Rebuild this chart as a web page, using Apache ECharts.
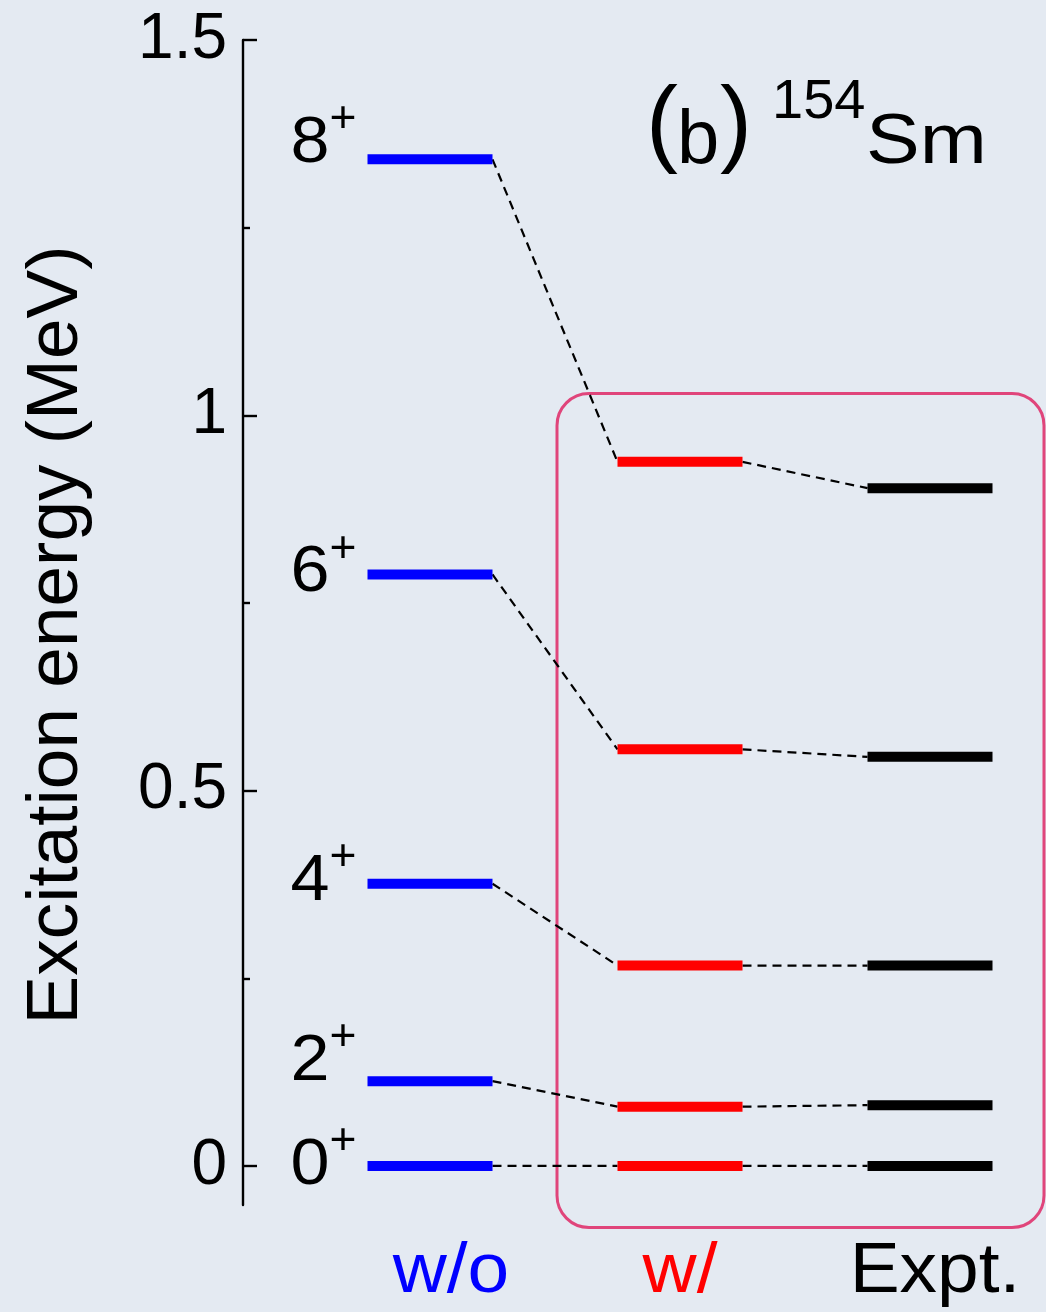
<!DOCTYPE html>
<html>
<head>
<meta charset="utf-8">
<title>154Sm excitation levels</title>
<style>
  html, body { margin: 0; padding: 0; background: #e4eaf2; }
  #chart { width: 1046px; height: 1312px; }
</style>
<script src="https://cdn.jsdelivr.net/npm/echarts@6/dist/echarts.min.js"></script>
</head>
<body>
<div id="chart"></div>
<script>
// Level energies (MeV) of the ground-state band, by spin 0+, 2+, 4+, 6+, 8+
const columns = ['w/o', 'w/', 'Expt.'];
const spins = ['0', '2', '4', '6', '8'];
const energyWithout = [0, 0.113, 0.376, 0.788, 1.341];
const energyWith = [0, 0.079, 0.267, 0.555, 0.938];
const energyExpt = [0, 0.081, 0.267, 0.545, 0.903];
const majorTicks = [0, 0.5, 1, 1.5];
const minorTicks = [0.25, 0.75, 1.25];

// ---- styling / layout ----
const FONT = "'Liberation Sans', Arial, Helvetica, sans-serif";
const columnColors = ['#0000ff', '#ff0000', '#000000'];
const HALF = 0.25;                    // half width of a level bar (column units)
const Y_MIN = -0.052, Y_MAX = 1.5;
const X_MIN = 0.252, X_MAX = 3.464;
const spinLabelLift = [0, -19, -2, -1, -15];  // px, keeps close labels apart
const columnLabelNudge = [21, 0, 5];          // px
const highlightBox = { x0: 1.508, x1: 3.456, y0: 1.029, y1: -0.082 };

const levelSets = [energyWithout, energyWith, energyExpt];

function levelSeries(ci) {
  return {
    type: 'custom',
    name: columns[ci],
    z: 4,
    data: levelSets[ci].map(e => [ci + 1, e]),
    renderItem(params, api) {
      const x = api.value(0), e = api.value(1);
      const a = api.coord([x - HALF, e]);
      const b = api.coord([x + HALF, e]);
      return {
        type: 'line',
        shape: { x1: a[0], y1: a[1], x2: b[0], y2: b[1] },
        style: { stroke: columnColors[ci], lineWidth: 10, lineCap: 'butt' }
      };
    }
  };
}

// dashed links between matching levels of neighbouring columns
const linkData = [];
spins.forEach((s, i) => {
  linkData.push([1 + HALF, energyWithout[i], 2 - HALF, energyWith[i]]);
  linkData.push([2 + HALF, energyWith[i], 3 - HALF, energyExpt[i]]);
});

const linkSeries = {
  type: 'custom',
  z: 3,
  data: linkData,
  renderItem(params, api) {
    const a = api.coord([api.value(0), api.value(1)]);
    const b = api.coord([api.value(2), api.value(3)]);
    return {
      type: 'line',
      shape: { x1: a[0], y1: a[1], x2: b[0], y2: b[1] },
      style: { stroke: '#000', lineWidth: 2.2, lineDash: [9, 6] }
    };
  }
};

// spin-parity labels left of the first column
const spinLabelSeries = {
  type: 'custom',
  z: 5,
  data: energyWithout.map((e, i) => [1, e, i]),
  renderItem(params, api) {
    const i = api.value(2);
    const p = api.coord([api.value(0) - HALF, api.value(1)]);
    const xr = p[0] - 38;
    const y = p[1] + spinLabelLift[i];
    return {
      type: 'group',
      children: [
        { type: 'text', x: xr, y: y, scaleX: 1.08,
          style: { text: spins[i], font: '65px ' + FONT, fill: '#000', align: 'right', verticalAlign: 'middle' } },
        { type: 'text', x: xr, y: y - 24, scaleX: 1.05,
          style: { text: '+', font: '44px ' + FONT, fill: '#000', align: 'left', verticalAlign: 'middle' } }
      ]
    };
  }
};

// column captions under the axis
const columnLabelSeries = {
  type: 'custom',
  z: 5,
  data: columns.map((c, i) => [i + 1, Y_MIN, i]),
  renderItem(params, api) {
    const i = api.value(2);
    const p = api.coord([api.value(0), api.value(1)]);
    return {
      type: 'text', x: p[0] + columnLabelNudge[i], y: p[1] + 68, scaleX: 1.07,
      style: { text: columns[i], font: '70px ' + FONT, fill: columnColors[i], align: 'center', verticalAlign: 'middle' }
    };
  }
};

// rounded frame around the w/ and Expt. columns
const frameSeries = {
  type: 'custom',
  z: 2,
  silent: true,
  data: [[highlightBox.x0, highlightBox.y0, highlightBox.x1, highlightBox.y1]],
  renderItem(params, api) {
    const a = api.coord([api.value(0), api.value(1)]);
    const b = api.coord([api.value(2), api.value(3)]);
    return {
      type: 'rect',
      shape: { x: a[0], y: a[1], width: b[0] - a[0], height: b[1] - a[1], r: 32 },
      style: { fill: 'none', stroke: '#e0457b', lineWidth: 3 }
    };
  }
};

const chart = echarts.init(document.getElementById('chart'), null, { renderer: 'canvas' });

chart.setOption({
  animation: false,
  backgroundColor: '#e4eaf2',
  grid: { left: 243, right: 0, top: 40, bottom: 107, containLabel: false, outerBoundsMode: 'none' },
  xAxis: { type: 'value', min: X_MIN, max: X_MAX, show: false },
  yAxis: [
    {
      type: 'value', min: Y_MIN, max: Y_MAX, position: 'left',
      splitLine: { show: false },
      axisLine: { show: true, onZero: false, lineStyle: { color: '#000', width: 2.4 } },
      axisTick: { show: true, inside: true, length: 14, customValues: majorTicks,
                  lineStyle: { color: '#000', width: 2.4 } },
      axisLabel: { show: true, customValues: majorTicks, formatter: v => String(v),
                   fontSize: 64, fontFamily: FONT, color: '#000', margin: 16 },
      name: 'Excitation energy (MeV)',
      nameLocation: 'middle', nameRotate: 90, nameGap: 150,
      nameTextStyle: { fontSize: 73, fontFamily: FONT, color: '#000', padding: [0, 25, 0, 0] }
    },
    {
      type: 'value', min: Y_MIN, max: Y_MAX, position: 'left',
      splitLine: { show: false }, axisLine: { show: false }, axisLabel: { show: false },
      axisTick: { show: true, inside: true, length: 7, customValues: minorTicks,
                  lineStyle: { color: '#000', width: 2.4 } }
    }
  ],
  graphic: [
    { type: 'text', x: 646, y: 128, style: { text: '(', font: '96px ' + FONT, fill: '#000', verticalAlign: 'middle' } },
    { type: 'text', x: 677, y: 142, style: { text: 'b', font: '76px ' + FONT, fill: '#000', verticalAlign: 'middle' } },
    { type: 'text', x: 720, y: 128, style: { text: ')', font: '96px ' + FONT, fill: '#000', verticalAlign: 'middle' } },
    { type: 'text', x: 772, y: 103, style: { text: '154', font: '56px ' + FONT, fill: '#000', verticalAlign: 'middle' } },
    { type: 'text', x: 866, y: 144, scaleX: 1.15, style: { text: 'Sm', font: '70px ' + FONT, fill: '#000', verticalAlign: 'middle' } }
  ],
  series: [
    frameSeries,
    linkSeries,
    levelSeries(0),
    levelSeries(1),
    levelSeries(2),
    spinLabelSeries,
    columnLabelSeries
  ]
});
</script>
</body>
</html>
